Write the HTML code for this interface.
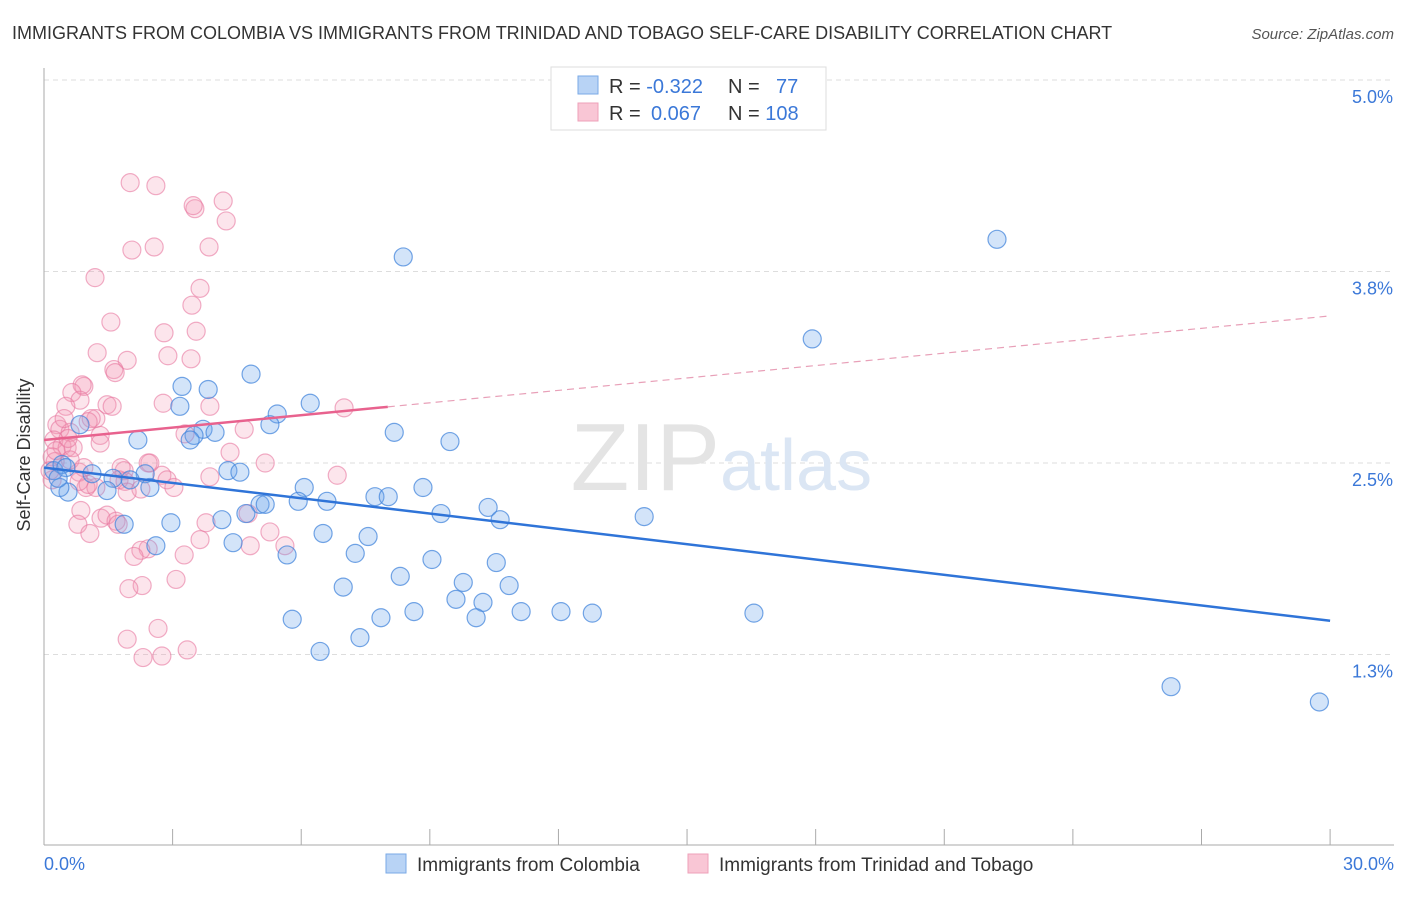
<!DOCTYPE html>
<html><head><meta charset="utf-8"><style>
body{margin:0;background:#fff;font-family:"Liberation Sans",sans-serif;}
svg text{font-family:"Liberation Sans",sans-serif;}
</style></head><body>
<svg width="1406" height="892" viewBox="0 0 1406 892" xmlns="http://www.w3.org/2000/svg">
<text x="12" y="39" font-size="18" fill="#333">IMMIGRANTS FROM COLOMBIA VS IMMIGRANTS FROM TRINIDAD AND TOBAGO SELF-CARE DISABILITY CORRELATION CHART</text>
<text x="1394" y="39" font-size="15" fill="#555" font-style="italic" text-anchor="end">Source: ZipAtlas.com</text>
<g id="grid"></g>
<g id="axes"></g>
<text x="720" y="490" font-size="96" fill="#e4e4e4" text-anchor="end" font-family="Liberation Serif">ZIP</text>
<text x="720" y="490" font-size="72" fill="#dbe6f4">atlas</text>
<g id="pts"></g>
<g id="trends"></g>
<text x="30" y="455" font-size="18" fill="#333" text-anchor="middle" transform="rotate(-90 30 455)">Self-Care Disability</text>
<g>
<rect x="551" y="67" width="275" height="63" fill="#fff" stroke="#ddd"/>
<rect x="578" y="76" width="20" height="18" fill="#b8d3f5" stroke="#7aaae6"/>
<rect x="578" y="103" width="20" height="18" fill="#f9c6d5" stroke="#eea0b9"/>
<text x="609" y="93" font-size="20" fill="#333">R = <tspan fill="#3b78d8">-0.322</tspan></text>
<text x="728" y="93" font-size="20" fill="#333">N = <tspan fill="#3b78d8" x="776">77</tspan></text>
<text x="609" y="120" font-size="20" fill="#333">R = <tspan fill="#3b78d8" x="651">0.067</tspan></text>
<text x="728" y="120" font-size="20" fill="#333">N = <tspan fill="#3b78d8">108</tspan></text>
</g>
<g>
<rect x="386" y="854" width="20" height="19" fill="#b8d3f5" stroke="#7aaae6"/>
<text x="417" y="871" font-size="19" fill="#333">Immigrants from Colombia</text>
<rect x="688" y="854" width="20" height="19" fill="#f9c6d5" stroke="#eea0b9"/>
<text x="719" y="871" font-size="19" fill="#333">Immigrants from Trinidad and Tobago</text>
</g>
</svg>
<script>
const yTicks=[5.0,3.75,2.5,1.25];
const yTickLabels=["5.0%","3.8%","2.5%","1.3%"];
const xTickCount=[0,3,6,9,12,15,18,21,24,27,30];
const blueX=[8.38,22.23,17.92,4.83,3.22,3.83,6.21,5.44,3.17,5.27,8.17,9.47,3.71,3.99,3.50,3.41,2.19,0.84,4.29,4.57,2.36,1.12,1.61,2.01,2.47,1.47,0.56,0.37,0.23,6.07,5.93,6.60,5.04,5.16,7.72,8.03,8.84,9.26,10.36,10.64,14.0,4.15,4.71,2.96,1.87,6.51,7.56,7.26,5.67,4.41,2.61,9.05,10.55,9.78,8.31,10.85,6.98,9.61,10.24,8.63,11.13,12.06,12.79,16.56,7.86,10.08,5.79,7.37,6.44,26.29,29.75,0.42,0.51,0.33];
const blueY=[3.845,3.96,3.31,3.08,3.00,2.98,2.89,2.82,2.87,2.75,2.70,2.64,2.72,2.70,2.68,2.65,2.65,2.75,2.45,2.44,2.43,2.43,2.40,2.39,2.34,2.32,2.31,2.34,2.45,2.34,2.25,2.25,2.23,2.23,2.28,2.28,2.34,2.17,2.21,2.13,2.15,2.13,2.17,2.11,2.10,2.04,2.02,1.91,1.90,1.98,1.96,1.87,1.85,1.72,1.76,1.70,1.69,1.61,1.59,1.53,1.53,1.53,1.52,1.52,1.49,1.49,1.48,1.36,1.27,1.04,0.94,2.49,2.47,2.40];
const pinkX=[2.01,2.61,3.52,3.48,4.18,4.25,2.05,2.57,3.85,1.19,3.64,3.45,1.56,2.80,3.55,1.24,1.94,2.89,3.43,1.63,1.66,0.93,0.89,0.65,0.84,0.51,1.47,1.59,2.78,3.87,7.00,1.21,1.10,1.03,1.31,0.30,0.37,0.61,0.23,1.31,0.42,0.54,0.68,4.67,3.29,4.34,5.16,2.47,1.87,1.80,2.43,2.75,6.84,3.87,0.82,0.19,0.26,0.61,0.93,0.98,1.21,1.75,1.89,2.87,3.03,2.26,1.94,1.03,0.82,0.86,0.79,1.07,1.33,1.47,1.68,1.73,2.43,2.26,2.10,3.27,3.64,3.78,4.76,5.27,5.62,4.81,3.08,2.29,1.98,1.94,2.66,2.31,2.75,3.34,0.19,0.14,0.28,0.47,0.56];
const pinkY=[4.33,4.31,4.16,4.18,4.21,4.08,3.89,3.91,3.91,3.71,3.64,3.53,3.42,3.35,3.36,3.22,3.17,3.20,3.18,3.11,3.09,3.00,3.01,2.96,2.91,2.87,2.88,2.87,2.89,2.87,2.86,2.79,2.79,2.77,2.68,2.75,2.72,2.70,2.65,2.63,2.61,2.60,2.60,2.72,2.69,2.57,2.50,2.50,2.45,2.47,2.50,2.42,2.42,2.41,2.44,2.54,2.51,2.52,2.47,2.34,2.34,2.39,2.38,2.39,2.34,2.33,2.31,2.36,2.38,2.19,2.10,2.04,2.14,2.16,2.12,2.10,1.94,1.93,1.89,1.90,2.00,2.11,2.17,2.05,1.96,1.96,1.74,1.70,1.68,1.35,1.42,1.23,1.24,1.28,2.39,2.45,2.58,2.79,2.66];
const blueTrend=[[0,2.47],[30,1.47]];
const pinkTrend=[[0,2.65],[30,3.46]];
const pinkSolidEnd=8.02;
const NS="http://www.w3.org/2000/svg";
const xs=v=>44+v*42.87;
const ys=v=>80+(5-v)*153.2;
function mk(tag,attrs,parent){const e=document.createElementNS(NS,tag);for(const k in attrs)e.setAttribute(k,attrs[k]);parent.appendChild(e);return e;}
const grid=document.getElementById('grid'),axes=document.getElementById('axes');
yTicks.forEach((t,i)=>{
 const l=mk('line',{x1:44,x2:1394,y1:ys(t),y2:ys(t),stroke:'#ddd','stroke-dasharray':'5,4'},grid);
 
 
 const tx=mk('text',{x:1393,y:ys(t)+23,'font-size':18,fill:'#3b78d8','text-anchor':'end'},axes);
 tx.textContent=yTickLabels[i];
 
 
});
const ya=mk('line',{x1:44,x2:44,y1:68,y2:845,stroke:'#aaa'},axes);


const xa=mk('line',{x1:44,x2:1394,y1:845,y2:845,stroke:'#aaa'},axes);


xTickCount.forEach(t=>{
 const l=mk('line',{x1:xs(t),x2:xs(t),y1:829,y2:845,stroke:'#aaa'},axes);
 
 
});
const xl0=mk('text',{x:44,y:870,'font-size':18,fill:'#3b78d8'},axes);xl0.textContent='0.0%';


const xl1=mk('text',{x:1394,y:870,'font-size':18,fill:'#3b78d8','text-anchor':'end'},axes);xl1.textContent='30.0%';


const pts=document.getElementById('pts');
pinkX.forEach((x,i)=>{
 const c=mk('circle',{cx:xs(x),cy:ys(pinkY[i]),r:9,fill:'rgba(244,150,180,0.25)',stroke:'rgba(232,120,160,0.6)','stroke-width':1.2},pts);
 
 
});
blueX.forEach((x,i)=>{
 const c=mk('circle',{cx:xs(x),cy:ys(blueY[i]),r:9,fill:'rgba(110,165,235,0.3)',stroke:'rgba(70,135,220,0.75)','stroke-width':1.2},pts);
 
 
});
const tr=document.getElementById('trends');
const bt=mk('line',{x1:xs(blueTrend[0][0]),y1:ys(blueTrend[0][1]),x2:xs(blueTrend[1][0]),y2:ys(blueTrend[1][1]),stroke:'#2f74d8','stroke-width':2.5},tr);


const slope=(pinkTrend[1][1]-pinkTrend[0][1])/(pinkTrend[1][0]-pinkTrend[0][0]);
const pe=pinkTrend[0][1]+slope*pinkSolidEnd;
const ps=mk('line',{x1:xs(0),y1:ys(pinkTrend[0][1]),x2:xs(pinkSolidEnd),y2:ys(pe),stroke:'#e8628e','stroke-width':2.5},tr);


const pd=mk('line',{x1:xs(pinkSolidEnd),y1:ys(pe),x2:xs(pinkTrend[1][0]),y2:ys(pinkTrend[1][1]),stroke:'#e8a0b8','stroke-width':1.2,'stroke-dasharray':'7,5'},tr);


</script>
</body></html>
